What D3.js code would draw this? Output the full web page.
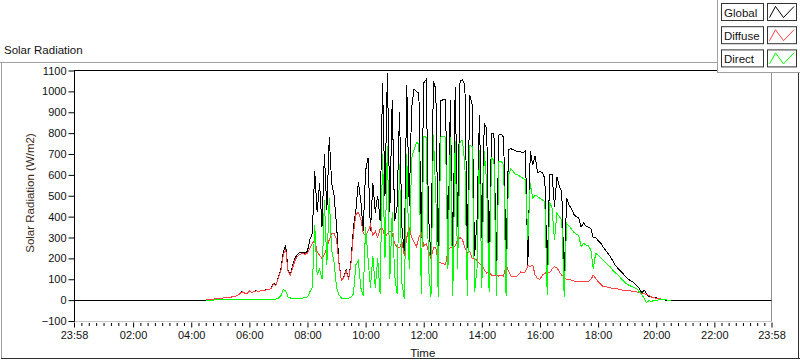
<!DOCTYPE html>
<html lang="en">
<head>
<meta charset="UTF-8">
<title>Solar Radiation</title>
<script src="https://cdnjs.cloudflare.com/ajax/libs/d3/7.8.5/d3.min.js"></script>
<style>
  body { margin: 0; background: #fff; }
  svg { display: block; font-family: "Liberation Sans", Arial, sans-serif; }
</style>
</head>
<body>
<div id="chart"></div>
<script>
// samples every 5 minutes starting at 04:30 (minutes after midnight)
const startMinute = 270;
const stepMinutes = 5;

const globalVals = [
  0,2,3,5,6,8,10,10,12,12,
  13,16,18,22,30,42,35,30,45,35,
  42,45,40,48,45,52,50,58,80,72,
  110,150,230,265,140,125,170,205,220,230,
  228,225,235,290,320,620,420,560,350,700,
  430,780,560,500,360,180,95,110,145,100,
  190,350,430,565,480,330,620,680,330,560,
  420,500,380,1040,500,1090,420,960,380,450,
  900,350,220,1030,450,920,1010,1000,990,300,
  1040,1056,400,200,1050,1010,200,955,960,960,
  220,960,180,1020,350,1050,1056,1030,250,984,
  936,210,380,888,300,848,820,200,800,795,
  160,790,795,780,180,720,725,720,715,712,
  710,707,715,170,715,648,690,610,616,610,
  584,136,600,600,448,590,544,520,96,490,
  455,440,410,400,395,350,370,355,350,344,
  300,300,285,275,256,240,224,210,190,168,
  155,142,130,118,106,96,90,80,70,56,
  35,48,32,17,14,13,12,8,4,3,
  0,0,0
];

const diffuseVals = [
  0,2,3,5,6,8,10,10,12,12,
  13,16,18,22,30,40,34,30,44,35,
  41,44,40,47,44,50,49,56,78,70,
  105,140,215,245,135,120,160,195,210,220,
  222,220,225,250,270,290,230,215,200,220,
  250,290,320,320,290,175,95,108,140,98,
  180,320,410,420,390,320,310,330,360,310,
  330,300,340,345,300,320,330,320,270,255,
  250,280,210,300,350,300,280,256,300,320,
  260,270,235,200,250,250,185,178,175,170,
  240,250,250,260,290,300,290,250,225,235,
  200,200,190,175,170,145,130,135,120,115,
  120,115,120,115,168,140,115,112,112,120,
  135,130,136,165,160,168,120,104,100,120,
  128,136,130,150,160,155,136,120,110,100,
  98,96,92,88,88,88,90,88,90,98,
  120,105,88,78,64,64,62,60,56,55,
  54,51,48,48,46,45,43,42,40,35,
  32,30,27,22,15,12,8,7,5,3,
  1,0,0
];

const directVals = [
  0,0,0,0,1,1,1,1,1,1,
  2,2,2,2,2,3,3,3,3,3,
  3,3,3,3,3,3,4,4,5,5,
  10,20,50,45,15,10,10,10,8,10,
  10,12,15,40,60,360,120,150,100,480,
  170,490,240,180,60,25,10,8,10,10,
  15,30,170,190,60,20,350,200,60,210,
  60,200,30,700,200,740,100,420,120,30,
  650,80,5,700,150,680,720,755,750,30,
  785,780,150,15,790,500,15,780,785,780,
  150,780,20,760,150,760,765,650,20,740,
  736,40,150,720,60,712,560,40,680,670,
  20,664,664,648,20,600,630,616,600,600,
  590,584,576,290,560,488,504,496,488,480,
  472,24,470,440,288,416,400,384,16,368,
  355,340,325,315,310,256,272,264,260,240,
  150,224,215,205,192,180,168,160,144,132,
  122,110,97,85,76,70,64,60,55,40,
  26,10,-12,-2,-8,0,0,1,2,2,
  1,0,0
];

// global is logged over the whole day (zero at night)
const dayStart = -2;     // 23:58 the day before
const dayEnd = 1438;     // 23:58
const nightValue = 0;

const xTickMinutes = [-2, 120, 240, 360, 480, 600, 720, 840, 960, 1080, 1200, 1320, 1438];
const xTickLabels = ["23:58","02:00","04:00","06:00","08:00","10:00","12:00","14:00","16:00","18:00","20:00","22:00","23:58"];
const yTicks = [-100, 0, 100, 200, 300, 400, 500, 600, 700, 800, 900, 1000, 1100];

const seriesNames = ["Global", "Diffuse", "Direct"];
const seriesColors = ["#000000", "#ff4040", "#00ff00"];

const width = 800, height = 361;
const plotLeft = 74, plotRight = 771.5, plotTop = 70.5, plotBottom = 321;

const svg = d3.select("#chart").append("svg")
  .attr("width", width)
  .attr("height", height);

// outer panel frame
svg.append("line").attr("x1", 0).attr("x2", 717).attr("y1", 62.5).attr("y2", 62.5).attr("stroke", "#a0a0a0");
svg.append("line").attr("x1", 1.5).attr("x2", 1.5).attr("y1", 62).attr("y2", 359).attr("stroke", "#a0a0a0");
svg.append("line").attr("x1", 1).attr("x2", 800).attr("y1", 358.5).attr("y2", 358.5).attr("stroke", "#303030");
svg.append("line").attr("x1", 798.5).attr("x2", 798.5).attr("y1", 72).attr("y2", 359).attr("stroke", "#303030");

svg.append("text")
  .attr("x", 4).attr("y", 54)
  .attr("font-size", "11.5px")
  .attr("fill", "#111")
  .text("Solar Radiation");

const x = d3.scaleLinear().domain([dayStart, dayEnd]).range([plotLeft, plotRight]);
const y = d3.scaleLinear().domain([-100, 1100]).range([plotBottom, plotTop]);

// plot frame
svg.append("rect")
  .attr("x", plotLeft).attr("y", plotTop)
  .attr("width", plotRight - plotLeft).attr("height", plotBottom - plotTop)
  .attr("fill", "#fff");
svg.append("line").attr("x1", plotRight).attr("x2", plotRight).attr("y1", plotTop).attr("y2", plotBottom + 0.5)
  .attr("stroke", "#909090");
svg.append("line").attr("x1", plotLeft).attr("x2", plotRight).attr("y1", plotBottom + 0.5).attr("y2", plotBottom + 0.5)
  .attr("stroke", "#c8c8c8");
svg.append("line").attr("x1", plotLeft).attr("x2", plotRight).attr("y1", plotTop).attr("y2", plotTop)
  .attr("stroke", "#000");
svg.append("line").attr("x1", plotLeft + 0.5).attr("x2", plotLeft + 0.5).attr("y1", plotTop).attr("y2", plotBottom + 0.5)
  .attr("stroke", "#000");

svg.append("clipPath").attr("id", "plotClip")
  .append("rect")
  .attr("x", plotLeft + 1).attr("y", plotTop)
  .attr("width", plotRight - plotLeft - 1).attr("height", plotBottom - plotTop);

// y axis
const yAxis = svg.append("g")
  .attr("transform", "translate(" + (plotLeft + 0.5) + ",0)")
  .call(d3.axisLeft(y).tickValues(yTicks).tickFormat(d3.format("d"))
    .tickSize(6).tickPadding(2));
yAxis.select(".domain").remove();
yAxis.selectAll("line").attr("stroke", "#000");
yAxis.selectAll("text").attr("font-size", "11px").attr("fill", "#111")
  .attr("font-family", "Liberation Sans, Arial, sans-serif");

svg.append("text")
  .attr("transform", "translate(34,193) rotate(-90)")
  .attr("text-anchor", "middle")
  .attr("font-size", "11.5px")
  .attr("fill", "#3a2a20")
  .text("Solar Radiation (W/m2)");

// x axis: major and minor ticks
const minorTicks = [];
for (let k = 0; k < xTickMinutes.length - 1; k++) {
  const a = xTickMinutes[k], b = xTickMinutes[k + 1];
  for (let j = 1; j < 8; j++) minorTicks.push(a + (b - a) * j / 8);
}

const xMinor = svg.append("g")
  .attr("transform", "translate(0," + (plotBottom + 2) + ")")
  .call(d3.axisBottom(x).tickValues(minorTicks).tickSize(3).tickFormat(""));
xMinor.select(".domain").remove();

const xAxis = svg.append("g")
  .attr("transform", "translate(0," + (plotBottom + 1.5) + ")")
  .call(d3.axisBottom(x).tickValues(xTickMinutes)
    .tickFormat((d, i) => xTickLabels[i])
    .tickSize(5).tickPadding(4));
xAxis.select(".domain").remove();
xAxis.selectAll("line").attr("stroke", "#000");
xAxis.selectAll("text").attr("font-size", "11px").attr("fill", "#111")
  .attr("font-family", "Liberation Sans, Arial, sans-serif");

svg.append("text")
  .attr("x", (plotLeft + plotRight) / 2).attr("y", 357)
  .attr("text-anchor", "middle")
  .attr("font-size", "11.5px")
  .attr("fill", "#111")
  .text("Time");

// series data
function toPoints(vals) {
  return vals.map((v, i) => ({ t: startMinute + i * stepMinutes, v: v }));
}
const globalPts = [{ t: dayStart, v: nightValue }]
  .concat(toPoints(globalVals))
  .concat([{ t: dayEnd, v: nightValue }]);
const seriesPts = [globalPts, toPoints(diffuseVals), toPoints(directVals)];

const line = d3.line()
  .x(d => x(d.t))
  .y(d => y(d.v));

const plot = svg.append("g").attr("clip-path", "url(#plotClip)");
seriesPts.forEach((pts, i) => {
  plot.append("path")
    .datum(pts)
    .attr("d", line)
    .attr("fill", "none")
    .attr("stroke", seriesColors[i])
    .attr("stroke-width", 1)
    .attr("shape-rendering", "crispEdges");
});

// legend panel
svg.append("rect")
  .attr("x", 717.5).attr("y", -2)
  .attr("width", 90).attr("height", 74.5)
  .attr("fill", "#fff")
  .attr("stroke", "#a0a0a0");

seriesNames.forEach((name, i) => {
  const yTop = 3.5 + i * 23.2;
  svg.append("rect")
    .attr("x", 721.5).attr("y", yTop)
    .attr("width", 42).attr("height", 17)
    .attr("fill", "#fff").attr("stroke", "#333");
  svg.append("text")
    .attr("x", 724).attr("y", yTop + 13)
    .attr("font-size", "11.5px")
    .attr("fill", "#111")
    .text(name);
  svg.append("rect")
    .attr("x", 767.5).attr("y", yTop)
    .attr("width", 29).attr("height", 17)
    .attr("fill", "#fff").attr("stroke", "#333");
  svg.append("path")
    .attr("d", d3.line()([[769.5, yTop + 14], [775.5, yTop + 3], [783.5, yTop + 14], [794, yTop + 3]]))
    .attr("fill", "none")
    .attr("stroke", seriesColors[i])
    .attr("stroke-width", 1);
});
</script>
</body>
</html>
